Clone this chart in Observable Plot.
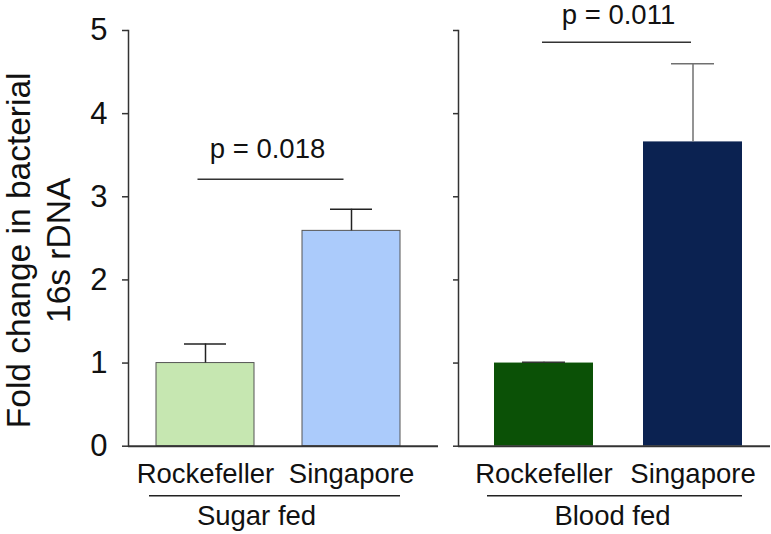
<!DOCTYPE html>
<html><head><meta charset="utf-8">
<script src="https://cdn.jsdelivr.net/npm/d3@7"></script>
<script src="https://cdn.jsdelivr.net/npm/@observablehq/plot@0.6"></script>
<style>
html,body{margin:0;padding:0;background:#fff;}
#chart{display:flex;width:771px;height:534px;overflow:hidden;}
</style></head><body><div id="chart"></div>
<script>
// ---- data ----
const strains = ["Rockefeller", "Singapore"];
const groups = ["Sugar fed", "Blood fed"];
const sugarMeans = [1.0, 2.59];
const sugarErrors = [0.23, 0.26];
const bloodMeans = [1.0, 3.66];
const bloodErrors = [0.01, 0.94];
const sugarColors = ["#c6e7b1", "#abcbfb"];
const bloodColors = ["#0b5106", "#0b2251"];
const sugarErrColors = ["#222222", "#222222"];
const bloodErrColors = ["#333333", "#707070"];
const pLabels = ["p = 0.018", "p = 0.011"];
const pLineY = [3.21, 4.86];
const yTicks = [0, 1, 2, 3, 4, 5];
const yTitle = "Fold change in bacterial\n16s rDNA";

const FONT = "'Liberation Sans', Arial, Helvetica, sans-serif";

function panel(o) {
  const rows = strains.map((s, i) => ({
    strain: s, mean: o.means[i], top: o.means[i] + o.errors[i],
    color: o.colors[i], err: o.errColors[i]
  }));
  const span = [{a: strains[0], b: strains[1], y0: 0, py: o.pY, p: o.pLabel}];
  const marks = [
    Plot.barY(rows, {x: "strain", y: "mean", fill: "color", stroke: o.barStroke, strokeWidth: 1, insetLeft: 3, insetRight: 3}),
    Plot.ruleX(rows, {x: "strain", y1: "mean", y2: "top", stroke: "err", strokeWidth: 1.5}),
    Plot.tickY(rows, {x: "strain", y: "top", stroke: "err", strokeWidth: 1.5, insetLeft: 31, insetRight: 31}),
    Plot.frame({anchor: "left", stroke: "#333", strokeWidth: 1.5}),
    Plot.ruleY([0], {stroke: "#333", strokeWidth: 2}),
    Plot.axisY({ticks: yTicks, tickSize: o.first ? 6 : 5, tickPadding: 15, fontSize: 31, stroke: "#333", strokeWidth: 1.5,
      fill: "#111", label: null, tickFormat: o.first ? (d => String(d)) : (() => "")}),
    Plot.axisX({tickSize: 0, tickPadding: 17, fontSize: 27.5, fill: "#111", label: null}),
    Plot.ruleY(span, {y: "y0", x1: "a", x2: "b", dy: 49.6, insetLeft: -4, insetRight: 3, stroke: "#222", strokeWidth: 1.5}),
    Plot.link(span, {x1: "a", x2: "b", y1: "py", y2: "py", dx: o.linkDx, stroke: "#333", strokeWidth: 1.5}),
    Plot.text(span, {y: "py", text: "p", frameAnchor: "middle", lineAnchor: "middle", fontSize: 27.5, fill: "#111", dx: o.pDx, dy: o.pDy}),
    Plot.text([o.group], {text: d => d, frameAnchor: "bottom", lineAnchor: "middle", fontSize: 27.5, fill: "#111", dx: o.groupDx, dy: 70})
  ];
  if (o.first) {
    marks.push(Plot.text([yTitle], {text: d => d, frameAnchor: "left", rotate: -90, fontSize: 33.5, lineHeight: 1.2,
      textAnchor: "middle", lineAnchor: "middle", fill: "#111", dx: -91, dy: 12}));
  }
  return Plot.plot({
    width: o.width, height: 534,
    marginLeft: o.marginLeft, marginRight: o.marginRight, marginTop: 30, marginBottom: 88.3,
    style: {fontFamily: FONT, background: "white", overflow: "visible", color: "#111"},
    x: {domain: strains, paddingInner: o.pi, paddingOuter: o.po, align: o.align, axis: null},
    y: {domain: [0, 5], axis: null},
    color: {type: "identity"},
    marks
  });
}

const left = panel({
  group: groups[0], means: sugarMeans, errors: sugarErrors, colors: sugarColors, errColors: sugarErrColors,
  barStroke: "#555", pLabel: pLabels[0], pY: pLineY[0], width: 448, marginLeft: 128, marginRight: 10,
  pi: 0.2906, po: 0.2026, align: 0.416, first: true, pDx: -16, pDy: -30, linkDx: -8, groupDx: -27
});
const right = panel({
  group: groups[1], means: bloodMeans, errors: bloodErrors, colors: bloodColors, errColors: bloodErrColors,
  barStroke: "none", pLabel: pLabels[1], pY: pLineY[1], width: 323, marginLeft: 10, marginRight: 1,
  pi: 0.2934, po: 0.1915, align: 0.576, first: false, pDx: 4, pDy: -27, linkDx: -2, groupDx: -2
});
const chart = document.getElementById("chart");
chart.appendChild(left);
chart.appendChild(right);
</script>
</body></html>
